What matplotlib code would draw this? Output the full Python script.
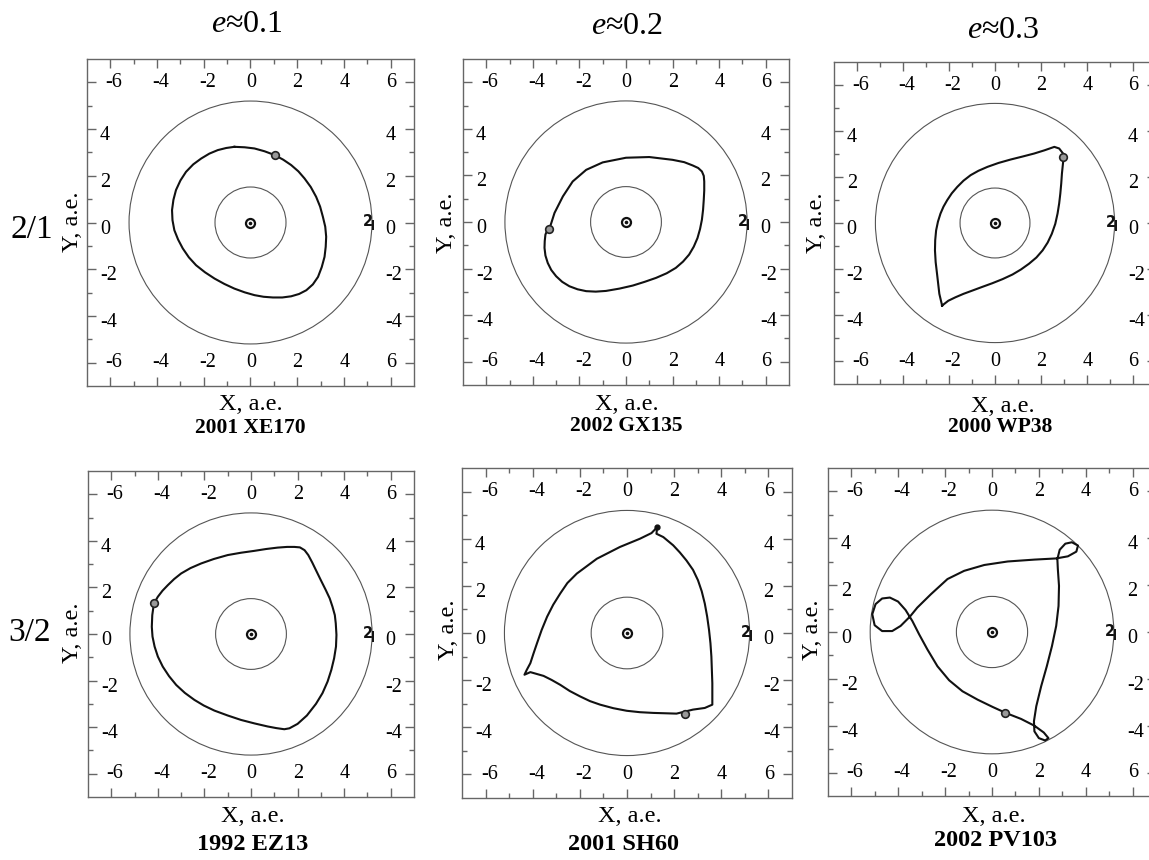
import matplotlib
matplotlib.use("Agg")
import matplotlib.pyplot as plt
from matplotlib.patches import Circle

plt.rcParams['font.family'] = ['Liberation Serif', 'DejaVu Serif']
plt.rcParams['mathtext.fontset'] = 'custom'
plt.rcParams['mathtext.it'] = 'Liberation Serif:italic'
plt.rcParams['mathtext.rm'] = 'Liberation Serif'

# ---------------- data ----------------
col_titles = ["$e$≈0.1", "$e$≈0.2", "$e$≈0.3"]
row_labels = ["2/1", "3/2"]
names = ["2001 XE170", "2002 GX135", "2000 WP38",
         "1992 EZ13", "2001 SH60", "2002 PV103"]
major_ticks = [-6, -4, -2, 0, 2, 4, 6]
minor_ticks = [-5, -3, -1, 1, 3, 5]
side_ticks = [4, 2, 0, -2, -4]
circle_radii = [5.2, 1.52]          # Jupiter orbit, inner circle
jupiter_pos = (5.04, 0.03)

orb1_x = [-0.69, -0.25, 0.17, 0.60, 1.03, 1.40, 1.74, 2.05, 2.31, 2.58, 2.81, 2.98, 3.10, 3.20, 3.24,
          3.22, 3.17, 3.05, 2.89, 2.67, 2.39, 2.08, 1.74, 1.36, 0.96,
          0.56, 0.17, -0.25, -0.69, -1.12, -1.54, -1.95, -2.33, -2.64, -2.90, -3.10, -3.26, -3.34,
          -3.36, -3.30, -3.19, -3.00, -2.76, -2.45, -2.11, -1.76, -1.40, -1.04, -0.69]
orb1_y = [3.24, 3.22, 3.17, 3.05, 2.89, 2.69, 2.46, 2.19, 1.89, 1.52, 1.10, 0.68, 0.24, -0.18, -0.61,
          -1.04, -1.47, -1.91, -2.33, -2.65, -2.90, -3.06, -3.16, -3.21, -3.21,
          -3.18, -3.11, -2.99, -2.83, -2.63, -2.40, -2.13, -1.83, -1.49, -1.11, -0.73, -0.33, 0.10,
          0.53, 0.97, 1.39, 1.80, 2.17, 2.49, 2.74, 2.95, 3.10, 3.19, 3.24]
ast1 = (1.03, 2.89)

orb2_x = [-3.29, -3.07, -2.71, -2.29, -1.71, -1.00, 0.00, 1.00, 2.00, 2.50, 2.86, 3.10, 3.26, 3.34, 3.36,
          3.36, 3.34, 3.31, 3.26, 3.18, 3.07, 2.91, 2.71, 2.45, 2.14, 1.75, 1.29, 0.80, 0.29, -0.28, -0.86,
          -1.30, -1.71, -2.08, -2.43, -2.74, -3.00, -3.21, -3.36, -3.46, -3.50, -3.49, -3.46, -3.40, -3.29]
orb2_y = [-0.30, 0.39, 1.10, 1.74, 2.24, 2.56, 2.76, 2.79, 2.67, 2.57, 2.43, 2.32, 2.17, 1.98, 1.74,
          1.35, 0.96, 0.53, 0.10, -0.30, -0.69, -1.06, -1.40, -1.70, -1.97, -2.20, -2.40, -2.57, -2.73,
          -2.86, -2.96, -2.99, -2.97, -2.89, -2.76, -2.57, -2.33, -2.06, -1.76, -1.44, -1.11, -0.82,
          -0.54, -0.40, -0.30]
ast2 = (-3.29, -0.30)

orb3_x = [-2.30, -2.42, -2.52, -2.58, -2.61, -2.60, -2.56, -2.48, -2.37, -2.24, -2.08, -1.88, -1.64,
          -1.37, -1.06, -0.72, -0.33, 0.15, 0.68, 1.20, 1.70, 2.15, 2.58,
          2.79, 2.96, 2.97, 2.94, 2.91, 2.88, 2.84, 2.79, 2.72, 2.62, 2.47, 2.29, 2.07, 1.80, 1.48,
          1.13, 0.76, 0.33, -0.12, -0.56, -0.99, -1.37, -1.72, -2.03, -2.30]
orb3_y = [-3.59, -3.08, -2.21, -1.70, -1.19, -0.75, -0.32, 0.06, 0.41, 0.71, 0.99, 1.29, 1.57,
          1.84, 2.08, 2.27, 2.44, 2.61, 2.76, 2.89, 3.02, 3.16, 3.31,
          3.24, 3.02, 2.73, 2.44, 2.15, 1.72, 1.28, 0.85, 0.41, -0.04, -0.47, -0.85, -1.19, -1.50, -1.77,
          -2.02, -2.24, -2.44, -2.62, -2.78, -2.94, -3.08, -3.23, -3.38, -3.59]
ast3 = (2.94, 2.88)

orb4_x = [-4.17, -4.00, -3.80, -3.57, -3.30, -3.00, -2.60, -2.14, -1.60, -1.00, -0.43, 0.14, 0.65, 1.14,
          1.55, 1.86, 2.10, 2.30, 2.46, 2.63, 2.79, 3.00, 3.21, 3.38,
          3.50, 3.60, 3.64, 3.67, 3.65, 3.57, 3.45, 3.29, 3.07, 2.79, 2.40, 2.00, 1.65, 1.43, 1.08, 0.71,
          0.15, -0.43, -1.00, -1.57, -2.03, -2.43, -2.84, -3.21, -3.52, -3.79, -4.00, -4.14, -4.23, -4.26,
          -4.24, -4.17]
orb4_y = [1.31, 1.60, 1.86, 2.10, 2.36, 2.60, 2.83, 3.03, 3.22, 3.39, 3.49, 3.57, 3.65, 3.71,
          3.74, 3.74, 3.72, 3.60, 3.39, 3.07, 2.74, 2.31, 1.89, 1.53,
          1.17, 0.81, 0.46, -0.04, -0.54, -1.04, -1.54, -2.04, -2.54, -3.00, -3.50, -3.86, -4.05, -4.09,
          -4.04, -3.97, -3.84, -3.69, -3.50, -3.29, -3.07, -2.83, -2.53, -2.19, -1.81, -1.40, -0.97, -0.54,
          -0.11, 0.31, 0.81, 1.31]
ast4 = (-4.17, 1.31)

orb5_x = [1.28, 1.04, 0.55, -0.30, -1.28, -2.13, -2.53, -2.83, -3.13, -3.39, -3.62, -3.82, -3.97, -4.10,
          -4.25, -4.35, -4.10, -3.54, -3.20, -2.83, -2.43, -1.99, -1.57, -1.14, -0.58, -0.01, 0.55, 1.11,
          2.10, 2.80, 3.30, 3.62, 3.62, 3.60, 3.58, 3.54, 3.48, 3.40, 3.30, 3.17, 3.01, 2.80,
          2.52, 2.24, 1.96, 1.54, 1.25, 1.28]
orb5_y = [4.49, 4.24, 4.00, 3.65, 3.15, 2.52, 2.12, 1.68, 1.20, 0.69, 0.13, -0.44, -0.88, -1.28,
          -1.56, -1.77, -1.66, -1.82, -1.99, -2.20, -2.46, -2.69, -2.89, -3.04, -3.19, -3.30, -3.36, -3.39,
          -3.42, -3.25, -3.18, -3.04, -2.13, -1.56, -1.00, -0.43, 0.13, 0.70, 1.25, 1.77, 2.24, 2.68,
          3.08, 3.42, 3.72, 4.07, 4.21, 4.49]
ast5 = (2.48, -3.42)
cusp5 = (1.28, 4.49)

orb6_x = [0.60, 1.24, 1.81, 2.21, 2.41, 2.27, 2.00, 1.81, 1.79, 1.89, 2.10, 2.34, 2.56, 2.74,
          2.84, 2.86, 2.81, 2.79, 2.89, 3.13, 3.41, 3.67, 3.60, 3.24, 2.74, 1.81, 0.67, -0.33,
          -1.19, -1.90, -2.61, -3.19, -3.50, -3.90, -4.26, -4.69, -5.01, -5.11, -4.97, -4.69,
          -4.36, -4.01, -3.69, -3.40, -3.11, -2.76, -2.33, -1.83, -1.26, -0.61, 0.03, 0.60]
orb6_y = [-3.46, -3.71, -4.00, -4.29, -4.53, -4.63, -4.53, -4.24, -3.81, -3.17, -2.31, -1.46,
          -0.60, 0.26, 1.11, 1.97, 2.69, 3.11, 3.51, 3.77, 3.83, 3.69, 3.43, 3.23, 3.14, 3.09,
          3.01, 2.86, 2.61, 2.26, 1.61, 1.04, 0.66, 0.26, 0.04, 0.04, 0.29, 0.76, 1.19, 1.43,
          1.47, 1.30, 0.94, 0.47, -0.10, -0.74, -1.46, -2.06, -2.53, -2.89, -3.20, -3.46]
ast6 = (0.57, -3.46)

orbits = [(orb1_x, orb1_y, ast1), (orb2_x, orb2_y, ast2), (orb3_x, orb3_y, ast3),
          (orb4_x, orb4_y, ast4), (orb5_x, orb5_y, ast5), (orb6_x, orb6_y, ast6)]

# ---------------- layout (pixels) ----------------
W, H = 1149, 860
panel_boxes = [(87, 59, 327), (463, 59, 326), (834, 62, 322),
               (88, 471, 326), (462, 468, 330), (828, 468, 328)]
ylabel_pos = [(72, 222), (447, 223), (817, 223), (72, 633), (448, 630), (813, 630)]
xlabel_pos = [(251, 405), (627, 404), (1003, 406), (253, 817), (630, 817), (994, 817)]
name_pos = [(250, 428), (626, 426), (1000, 427), (253, 845), (623, 845), (995, 841)]
name_size = [15.5, 15.5, 15.5, 17.5, 17.5, 17.5]
title_pos = [(247, 25), (627, 27), (1003, 30)]
rowlab_pos = [(32, 230), (30, 633)]

fig = plt.figure(figsize=(W / 100, H / 100), dpi=100)
fig.patch.set_facecolor('white')

def fx(px):
    return px / W

def fy(py):
    return 1 - py / H

frame_col = '#666666'
tick_fs = 14.5
for i, (l, t, s) in enumerate(panel_boxes):
    ax = fig.add_axes([fx(l), fy(t + s), s / W, s / H])
    ax.set_xlim(-7, 7)
    ax.set_ylim(-7, 7)
    for sp in ax.spines.values():
        sp.set_color(frame_col)
        sp.set_linewidth(1.0)
    ax.set_xticks(major_ticks)
    ax.set_yticks(major_ticks)
    ax.set_xticks(minor_ticks, minor=True)
    ax.set_yticks(minor_ticks, minor=True)
    ax.tick_params(which='both', direction='in', top=True, right=True,
                   labelbottom=False, labelleft=False, color=frame_col, width=1.0)
    ax.tick_params(which='major', length=6.5)
    ax.tick_params(which='minor', length=3.5)

    # inner tick labels
    for v in major_ticks:
        ax.text(v - 0.2, 6.0, str(v), ha='left', va='center', fontsize=tick_fs)
        ax.text(v - 0.2, -6.0, str(v), ha='left', va='center', fontsize=tick_fs)
    for v in side_ticks:
        ax.text(-6.45, v - 0.28, str(v), ha='left', va='center', fontsize=tick_fs)
        ax.text(5.78, v - 0.28, str(v), ha='left', va='center', fontsize=tick_fs)

    for r in circle_radii:
        ax.add_patch(Circle((0, 0), r, fill=False, ec='#555555', lw=0.8))

    # Sun
    ax.plot([0], [0], marker='o', ms=6.5, mfc='none', mec='#111111', mew=1.6)
    ax.plot([0], [0], marker='o', ms=1.6, color='#111111')
    # Jupiter symbol (a "2" with a vertical stroke through its base)
    jx, jy = jupiter_pos
    ax.text(jx, jy, '2', family='DejaVu Sans', fontsize=10.5, fontweight='bold',
            ha='center', va='center', color='#111111')
    ax.plot([jx + 0.2, jx + 0.2], [jy + 0.08, jy - 0.36], color='#111111', lw=1.4,
            solid_capstyle='butt')

    ox, oy, ast = orbits[i]
    ax.plot(ox, oy, color='#111111', lw=1.5, solid_joinstyle='round')
    ax.plot([ast[0]], [ast[1]], marker='o', ms=5.5, mfc='#999999', mec='#222222', mew=1.2)
    if i == 4:
        ax.plot([cusp5[0]], [cusp5[1]], marker='o', ms=3.5, color='#111111')

    xl, yl = xlabel_pos[i]
    fig.text(fx(xl), fy(yl), 'X, a.e.', ha='center', va='center', fontsize=17.5)
    yx, yy = ylabel_pos[i]
    fig.text(fx(yx), fy(yy), 'Y, a.e.', ha='center', va='center', fontsize=17.5, rotation=90)
    nx, ny = name_pos[i]
    fig.text(fx(nx), fy(ny), names[i], ha='center', va='center', fontsize=name_size[i],
             fontweight='bold')

for j, (tx, ty) in enumerate(title_pos):
    fig.text(fx(tx), fy(ty), col_titles[j], ha='center', va='center', fontsize=23)
for j, (rx, ry) in enumerate(rowlab_pos):
    fig.text(fx(rx), fy(ry), row_labels[j], ha='center', va='center', fontsize=24)

fig.savefig('out.png', dpi=100, facecolor='white')
